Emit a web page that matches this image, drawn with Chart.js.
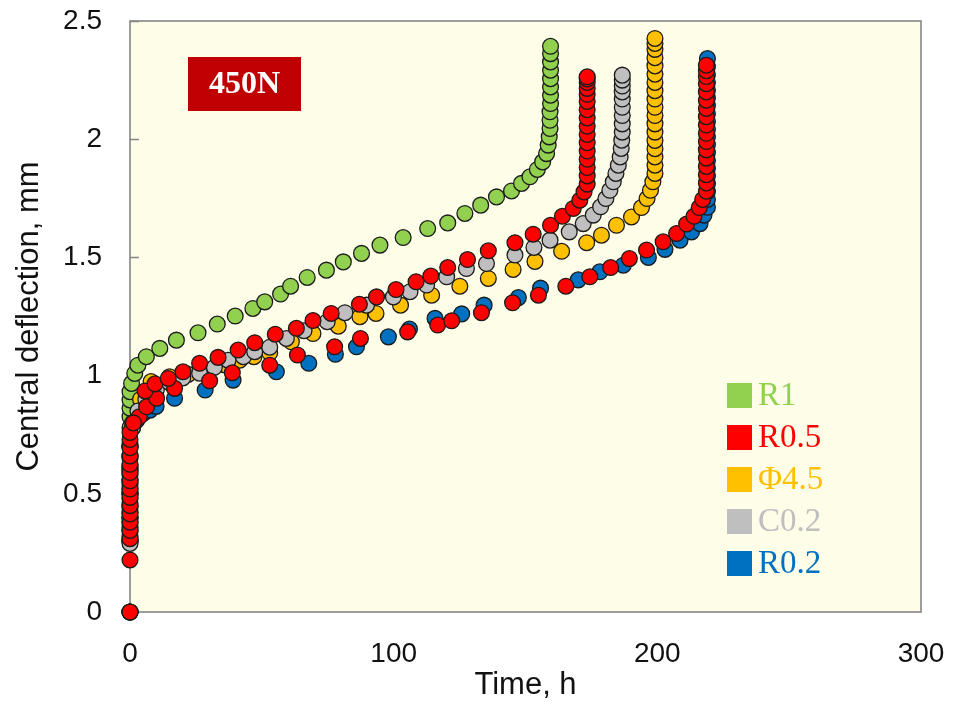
<!DOCTYPE html>
<html>
<head>
<meta charset="utf-8">
<script src="https://cdn.jsdelivr.net/npm/chart.js@4/dist/chart.umd.min.js"></script>
<style>
  html, body { margin: 0; padding: 0; background: #ffffff; }
  #wrap { width: 953px; height: 727px; }
</style>
</head>
<body>
<div id="wrap"><canvas id="c" width="953" height="727"></canvas></div>
<script>
// Creep tests at 450 N: central deflection (mm) against time (h)

// R1
const r1Time = [0, 0, 0, 0, 0, 0, 0, 0, 0, 0, 0,
  0.6, 1.8, 3.0, 6.2, 11.3, 17.6, 25.8, 33.1, 39.9, 46.6,
  51.1, 57.1, 60.9, 67.2, 74.5, 80.9, 87.8, 94.8, 103.6, 112.9,
  120.5, 127.0, 133.0, 139.0, 144.7, 148.5, 151.7, 154.5, 156.5, 158.0,
  158.6, 159.0, 159.3, 159.3, 159.3, 159.5, 159.5, 159.5, 159.5, 159.5,
  159.5, 159.5, 159.5];
const r1Defl = [0, 0.3, 0.4, 0.5, 0.6, 0.7, 0.78, 0.826, 0.862, 0.897, 0.932,
  0.967, 1.009, 1.044, 1.080, 1.115, 1.150, 1.181, 1.218, 1.252, 1.284,
  1.312, 1.345, 1.378, 1.415, 1.446, 1.481, 1.517, 1.552, 1.584, 1.622,
  1.646, 1.686, 1.721, 1.756, 1.781, 1.813, 1.841, 1.872, 1.904, 1.939,
  1.975, 2.010, 2.045, 2.080, 2.116, 2.151, 2.186, 2.221, 2.256, 2.292,
  2.327, 2.362, 2.393];

// R0.5
const r05Time = [0, 0, 0, 0, 0, 0, 0, 0, 0, 0, 0, 0, 0, 0, 0, 0,
  1.3, 5.7, 9.5, 14.5, 20.1, 26.4, 33.4, 41.0, 47.3, 55.1,
  63.1, 69.4, 76.3, 87.0, 93.5, 100.9, 108.5, 114.1, 120.5, 128.0,
  135.9, 146.0, 152.9, 159.5, 164.0, 168.1, 170.6, 172.2,
  173.4, 173.4, 173.4, 173.4, 173.4, 173.4, 173.4, 173.4,
  173.4, 173.4, 173.4, 173.4, 173.4, 173.4, 173.4, 173.4];
const r05Defl = [0, 0.22, 0.31, 0.345, 0.38, 0.415, 0.45, 0.485, 0.52, 0.555, 0.59, 0.625, 0.66, 0.695, 0.73, 0.76,
  0.80, 0.935, 0.965, 0.988, 1.016, 1.052, 1.077, 1.108, 1.139, 1.175,
  1.200, 1.233, 1.263, 1.302, 1.333, 1.364, 1.397, 1.421, 1.457, 1.491,
  1.528, 1.562, 1.598, 1.636, 1.674, 1.707, 1.742, 1.777,
  1.81, 1.845, 1.88, 1.915, 1.95, 1.985, 2.02, 2.055,
  2.09, 2.125, 2.16, 2.19, 2.215, 2.24, 2.255, 2.264];

// Φ4.5
const phiTime = [0, 0, 0, 0, 0, 0, 0, 0, 0, 0,
  1.0, 4.0, 8.0, 15.0, 22.0, 30.0, 36.0, 41.6, 47.0, 53.0,
  61.2, 69.4, 79.0, 87.2, 93.3, 102.6, 114.4, 125.1, 135.9, 145.3,
  153.6, 163.7, 173.2, 178.8, 184.5, 190.2, 194.0, 196.1, 197.4, 198.3,
  199.1, 199.1, 199.1, 199.1, 199.1, 199.1, 199.1, 199.1, 199.1,
  199.1, 199.1, 199.1, 199.1, 199.1, 199.1, 199.1, 199.1, 199.1];
const phiDefl = [0, 0.3, 0.35, 0.4, 0.45, 0.5, 0.55, 0.6, 0.65, 0.7,
  0.80, 0.90, 0.975, 0.995, 1.005, 1.02, 1.045, 1.065, 1.08, 1.097,
  1.143, 1.178, 1.209, 1.249, 1.263, 1.298, 1.340, 1.378, 1.411, 1.449,
  1.483, 1.526, 1.562, 1.594, 1.636, 1.671, 1.711, 1.749, 1.784, 1.820,
  1.855, 1.89, 1.925, 1.96, 1.995, 2.03, 2.065, 2.10, 2.135,
  2.17, 2.205, 2.24, 2.275, 2.31, 2.345, 2.38, 2.405, 2.426];

// C0.2
const c02Time = [0, 0, 0, 0, 0, 0, 0, 0, 0, 0, 0, 0,
  1.0, 3.0, 6.0, 10.0, 15.0, 20.0, 26.4, 32.0, 37.2, 43.0,
  47.3, 53.0, 59.3, 66.0, 74.8, 81.5, 89.7, 99.9, 106.2, 112.5,
  120.1, 127.6, 135.2, 146.0, 153.2, 159.3, 166.6, 171.9, 175.7, 178.5,
  180.5, 182.0, 183.3, 184.3, 185.2, 185.9, 186.3, 186.5,
  186.7, 186.7, 186.7, 186.7, 186.7, 186.7, 186.7, 186.7, 186.7];
const c02Defl = [0, 0.29, 0.32, 0.36, 0.40, 0.44, 0.48, 0.52, 0.56, 0.61, 0.66, 0.71,
  0.78, 0.85, 0.90, 0.94, 0.97, 0.99, 1.010, 1.035, 1.065, 1.080,
  1.101, 1.120, 1.157, 1.190, 1.228, 1.266, 1.298, 1.333, 1.355, 1.383,
  1.418, 1.453, 1.474, 1.510, 1.542, 1.573, 1.608, 1.643, 1.679, 1.714,
  1.749, 1.784, 1.820, 1.855, 1.890, 1.925, 1.961, 1.996,
  2.03, 2.065, 2.10, 2.135, 2.17, 2.20, 2.225, 2.25, 2.271];

// R0.2
const r02Time = [0, 0, 0, 0, 0, 0, 0, 0, 0, 0, 0, 0,
  1.0, 2.5, 5.0, 7.6, 9.9, 16.9, 28.5, 39.1, 55.5, 67.8,
  77.9, 85.9, 98.0, 106.0, 115.7, 125.8, 134.3, 147.3, 155.7, 170.0,
  178.2, 187.1, 196.6, 202.9, 208.6, 213.0, 216.2, 217.7,
  219.0, 219.0, 219.0, 219.0, 219.0, 219.0, 219.0, 219.0, 219.0, 219.0,
  219.0, 219.0, 219.0, 219.0, 219.0, 219.0, 219.0, 219.0, 219.0, 219.0];
const r02Defl = [0, 0.3, 0.34, 0.38, 0.42, 0.46, 0.5, 0.54, 0.58, 0.62, 0.66, 0.7,
  0.78, 0.81, 0.84, 0.854, 0.87, 0.904, 0.939, 0.981, 1.016, 1.052,
  1.090, 1.122, 1.164, 1.197, 1.242, 1.261, 1.298, 1.330, 1.370, 1.405,
  1.439, 1.467, 1.500, 1.534, 1.573, 1.608, 1.643, 1.679,
  1.712, 1.745, 1.778, 1.811, 1.844, 1.877, 1.910, 1.943, 1.976, 2.009,
  2.042, 2.075, 2.108, 2.141, 2.174, 2.207, 2.240, 2.273, 2.306, 2.341];

// Repeat R0.5 specimen (red, not listed in the key)
const r05bTime = [3.5, 6.3, 10.1, 16.9, 30.2, 38.8, 53.0, 63.5, 77.6, 87.4,
  105.3, 116.7, 122.0, 133.3, 145.1, 154.9, 165.3, 174.4, 182.3, 189.4,
  195.9, 202.2, 207.3, 211.1, 213.9, 215.9, 217.2,
  218.6, 218.6, 218.6, 218.6, 218.6, 218.6, 218.6, 218.6, 218.6,
  218.6, 218.6, 218.6, 218.6, 218.6, 218.6, 218.6, 218.6];
const r05bDefl = [0.826, 0.868, 0.904, 0.946, 0.978, 1.012, 1.044, 1.087, 1.122, 1.157,
  1.185, 1.214, 1.232, 1.266, 1.308, 1.340, 1.378, 1.418, 1.457, 1.495,
  1.531, 1.566, 1.601, 1.641, 1.674, 1.711, 1.745,
  1.78, 1.815, 1.85, 1.885, 1.92, 1.955, 1.99, 2.025, 2.06,
  2.095, 2.13, 2.165, 2.2, 2.235, 2.265, 2.29, 2.313];

// Axis ticks
const xTickValues = [0, 100, 200, 300];
const yTickValues = [0, 0.5, 1, 1.5, 2, 2.5];

// Key entries: label and colour
const keyLabels = ['R1', 'R0.5', 'Φ4.5', 'C0.2', 'R0.2'];
const keyColors = ['#92D050', '#FF0000', '#FFC000', '#BFBFBF', '#0070C0'];

const loadLabel = '450N';

const pairs = (xs, ys) => xs.map((x, i) => ({ x: x, y: ys[i] }));

function series(label, xs, ys, color, order) {
  return {
    label: label,
    data: pairs(xs, ys),
    showLine: false,
    pointRadius: 7.9,
    pointBorderWidth: 1.3,
    pointBorderColor: '#1b1b1b',
    pointBackgroundColor: color,
    order: order,
    clip: false
  };
}

// keep the plot box exactly where the axes say, without extra room for edge labels
function noEdgePadding(s) {
  s.paddingTop = 0;
  s.paddingBottom = 0;
  s.paddingLeft = 0;
  s.paddingRight = 0;
}

const plotPlugin = {
  id: 'plotFrame',
  beforeDatasetsDraw(chart) {
    const { ctx, chartArea: a } = chart;
    ctx.save();
    ctx.fillStyle = '#FEFDE8';
    ctx.fillRect(a.left, a.top, a.right - a.left, a.bottom - a.top);
    ctx.strokeStyle = '#858585';
    ctx.lineWidth = 1.6;
    ctx.strokeRect(a.left, a.top, a.right - a.left, a.bottom - a.top);
    const ys = chart.scales.y;
    ctx.beginPath();
    yTickValues.forEach(v => {
      const py = Math.round(ys.getPixelForValue(v)) + 0.5;
      ctx.moveTo(a.left, py);
      ctx.lineTo(a.left + 9, py);
    });
    ctx.stroke();
    ctx.restore();
  },
  afterDatasetsDraw(chart) {
    const { ctx, chartArea: a } = chart;
    ctx.save();
    // load tag
    const bx = a.left + 58, by = a.top + 36, bw = 113, bh = 54;
    ctx.fillStyle = '#C00000';
    ctx.fillRect(bx, by, bw, bh);
    ctx.fillStyle = '#FFFFFF';
    ctx.font = 'bold 32px "Liberation Serif", "Times New Roman", serif';
    ctx.textAlign = 'center';
    ctx.textBaseline = 'middle';
    ctx.fillText(loadLabel, bx + bw / 2, by + bh / 2 + 1);
    // key
    ctx.font = '33px "Liberation Serif", "Times New Roman", serif';
    ctx.textAlign = 'left';
    keyLabels.forEach((lab, i) => {
      const cy = a.top + 374.5 + i * 42;
      ctx.fillStyle = keyColors[i];
      ctx.fillRect(a.left + 597, cy - 12.5, 25, 25);
      ctx.fillText(lab, a.left + 628, cy + 1);
    });
    ctx.restore();
  }
};

new Chart(document.getElementById('c'), {
  type: 'scatter',
  data: {
    datasets: [
      series('R0.5', r05Time, r05Defl, keyColors[1], 0),
      series('R0.5 repeat', r05bTime, r05bDefl, keyColors[1], 1),
      series('C0.2', c02Time, c02Defl, keyColors[3], 2),
      series('Φ4.5', phiTime, phiDefl, keyColors[2], 3),
      series('R0.2', r02Time, r02Defl, keyColors[4], 4),
      series('R1', r1Time, r1Defl, keyColors[0], 5)
    ]
  },
  options: {
    responsive: false,
    animation: false,
    events: [],
    layout: { padding: { top: 21, right: 32, left: 0, bottom: 0 } },
    plugins: {
      legend: { display: false },
      tooltip: { enabled: false }
    },
    scales: {
      x: {
        type: 'linear',
        min: 0, max: 300,
        afterBuildTicks: s => { s.ticks = xTickValues.map(v => ({ value: v })); },
        afterFit: s => { s.height = 115; noEdgePadding(s); },
        grid: { display: false, drawTicks: false },
        border: { display: false },
        ticks: {
          padding: 25,
          color: '#111111',
          callback: v => String(v),
          font: { family: '"Liberation Sans", Arial, sans-serif', size: 28 },
          maxRotation: 0
        },
        title: {
          display: true,
          text: 'Time, h',
          color: '#111111',
          font: { family: '"Liberation Sans", Arial, sans-serif', size: 31 },
          padding: { top: 0, bottom: 23 }
        }
      },
      y: {
        type: 'linear',
        min: 0, max: 2.5,
        afterBuildTicks: s => { s.ticks = yTickValues.map(v => ({ value: v })); },
        afterFit: s => { s.width = 130; noEdgePadding(s); },
        grid: { display: false, drawTicks: false },
        border: { display: false },
        ticks: {
          padding: 28,
          color: '#111111',
          callback: v => String(v),
          font: { family: '"Liberation Sans", Arial, sans-serif', size: 28 }
        },
        title: {
          display: true,
          text: 'Central deflection, mm',
          color: '#111111',
          font: { family: '"Liberation Sans", Arial, sans-serif', size: 31 },
          padding: { top: 11, bottom: 0 }
        }
      }
    }
  },
  plugins: [plotPlugin]
});
</script>
</body>
</html>
